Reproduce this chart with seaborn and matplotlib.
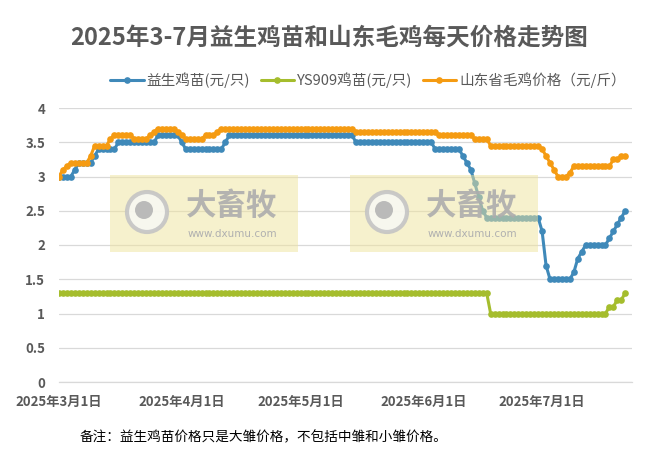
import numpy as np
import pandas as pd
import matplotlib
matplotlib.use('Agg')
import matplotlib.pyplot as plt
import matplotlib.dates as mdates
from matplotlib.patches import Rectangle, Ellipse
import seaborn as sns

sns.set_style('white')
plt.rcParams['font.family'] = ['Noto Sans CJK SC', 'DejaVu Sans']

# ---- data (daily, 2025-03-01 .. 2025-07-22) ----
dates = pd.date_range('2025-03-01', '2025-07-22', freq='D')

# 益生鸡苗 (元/只)
yisheng_mar = [3.0, 3.0, 3.0, 3.0, 3.1, 3.2, 3.2, 3.2, 3.2, 3.3, 3.4, 3.4, 3.4, 3.4, 3.4,
               3.5, 3.5, 3.5, 3.5, 3.5, 3.5, 3.5, 3.5, 3.5, 3.5, 3.6, 3.6, 3.6, 3.6, 3.6, 3.6]
yisheng_apr = [3.5, 3.4, 3.4, 3.4, 3.4, 3.4, 3.4, 3.4, 3.4, 3.4, 3.4, 3.5, 3.6, 3.6, 3.6,
               3.6, 3.6, 3.6, 3.6, 3.6, 3.6, 3.6, 3.6, 3.6, 3.6, 3.6, 3.6, 3.6, 3.6, 3.6]
yisheng_may = [3.6, 3.6, 3.6, 3.6, 3.6, 3.6, 3.6, 3.6, 3.6, 3.6, 3.6, 3.6, 3.6, 3.6, 3.5, 3.5,
               3.5, 3.5, 3.5, 3.5, 3.5, 3.5, 3.5, 3.5, 3.5, 3.5, 3.5, 3.5, 3.5, 3.5, 3.5]
yisheng_jun = [3.5, 3.5, 3.5, 3.4, 3.4, 3.4, 3.4, 3.4, 3.4, 3.4, 3.3, 3.2, 3.1, 2.9, 2.7,
               2.5, 2.4, 2.4, 2.4, 2.4, 2.4, 2.4, 2.4, 2.4, 2.4, 2.4, 2.4, 2.4, 2.4, 2.4]
yisheng_jul = [2.2, 1.7, 1.5, 1.5, 1.5, 1.5, 1.5, 1.5, 1.6, 1.8, 1.9, 2.0, 2.0, 2.0, 2.0,
               2.0, 2.0, 2.1, 2.2, 2.3, 2.4, 2.5]

# YS909鸡苗 (元/只)
ys909_mar = [1.3] * 31
ys909_apr = [1.3] * 30
ys909_may = [1.3] * 31
ys909_jun = [1.3, 1.3, 1.3, 1.3, 1.3, 1.3, 1.3, 1.3, 1.3, 1.3, 1.3, 1.3, 1.3, 1.3, 1.3,
             1.3, 1.3, 1.0, 1.0, 1.0, 1.0, 1.0, 1.0, 1.0, 1.0, 1.0, 1.0, 1.0, 1.0, 1.0]
ys909_jul = [1.0, 1.0, 1.0, 1.0, 1.0, 1.0, 1.0, 1.0, 1.0, 1.0, 1.0, 1.0, 1.0, 1.0, 1.0,
             1.0, 1.0, 1.1, 1.1, 1.2, 1.2, 1.3]

# 山东省毛鸡价格 (元/斤)
maoji_mar = [3.0, 3.1, 3.15, 3.2, 3.2, 3.2, 3.2, 3.2, 3.3, 3.45, 3.45, 3.45, 3.45, 3.55, 3.6,
             3.6, 3.6, 3.6, 3.6, 3.55, 3.55, 3.55, 3.55, 3.6, 3.65, 3.7, 3.7, 3.7, 3.7, 3.7, 3.65]
maoji_apr = [3.6, 3.55, 3.55, 3.55, 3.55, 3.55, 3.6, 3.6, 3.6, 3.65, 3.7, 3.7, 3.7, 3.7, 3.7,
             3.7, 3.7, 3.7, 3.7, 3.7, 3.7, 3.7, 3.7, 3.7, 3.7, 3.7, 3.7, 3.7, 3.7, 3.7]
maoji_may = [3.7, 3.7, 3.7, 3.7, 3.7, 3.7, 3.7, 3.7, 3.7, 3.7, 3.7, 3.7, 3.7, 3.7, 3.65, 3.65,
             3.65, 3.65, 3.65, 3.65, 3.65, 3.65, 3.65, 3.65, 3.65, 3.65, 3.65, 3.65, 3.65, 3.65, 3.65]
maoji_jun = [3.65, 3.65, 3.65, 3.65, 3.6, 3.6, 3.6, 3.6, 3.6, 3.6, 3.6, 3.6, 3.6, 3.55, 3.55,
             3.55, 3.55, 3.45, 3.45, 3.45, 3.45, 3.45, 3.45, 3.45, 3.45, 3.45, 3.45, 3.45, 3.45, 3.45]
maoji_jul = [3.4, 3.3, 3.2, 3.1, 3.0, 3.0, 3.0, 3.05, 3.15, 3.15, 3.15, 3.15, 3.15, 3.15, 3.15,
             3.15, 3.15, 3.15, 3.25, 3.25, 3.3, 3.3]

series_names = ['益生鸡苗(元/只)', 'YS909鸡苗(元/只)', '山东省毛鸡价格（元/斤）']
series_colors = ['#3F89B9', '#A5BD2D', '#F59B12']

yisheng = yisheng_mar + yisheng_apr + yisheng_may + yisheng_jun + yisheng_jul
ys909 = ys909_mar + ys909_apr + ys909_may + ys909_jun + ys909_jul
maoji = maoji_mar + maoji_apr + maoji_may + maoji_jun + maoji_jul

df = pd.DataFrame({'date': dates, series_names[0]: yisheng,
                   series_names[1]: ys909, series_names[2]: maoji})

W, H = 658, 459
fig = plt.figure(figsize=(W / 100, H / 100), dpi=100)
ax = fig.add_axes([59 / W, 1 - 382 / H, (632 - 59) / W, (382 - 108) / H])

for name, color in zip(series_names, series_colors):
    sns.lineplot(data=df, x='date', y=name, ax=ax, color=color, label=name,
                 linewidth=2.2, marker='o', markersize=4.8, markeredgewidth=0)

ax.set_xlim(pd.Timestamp('2025-03-01'), pd.Timestamp('2025-03-01') + pd.Timedelta(days=144.7))
ax.set_ylim(0, 4)
ax.set_yticks(np.arange(0, 4.01, 0.5))
ax.set_yticklabels(['0', '0.5', '1', '1.5', '2', '2.5', '3', '3.5', '4'])
ax.xaxis.set_major_locator(mdates.MonthLocator())
ax.xaxis.set_major_formatter(plt.FuncFormatter(
    lambda v, pos: (lambda d: f'{d.year}年{d.month}月{d.day}日')(mdates.num2date(v))))

ax.grid(axis='y', color='#D9D9D9', linewidth=0.9)
ax.set_axisbelow(True)
for s in ['top', 'right', 'left']:
    ax.spines[s].set_visible(False)
ax.spines['bottom'].set_color('#D9D9D9')
ax.spines['bottom'].set_linewidth(0.9)
ax.tick_params(axis='y', length=0, pad=10, labelsize=9.5, labelcolor='#595959')
ax.tick_params(axis='x', length=4, color='#D9D9D9', pad=5, labelsize=9.5, labelcolor='#595959')
for lab in ax.get_xticklabels() + ax.get_yticklabels():
    lab.set_fontweight('bold')
ax.set_xlabel('')
ax.set_ylabel('')

ax.legend(ncol=3, loc='center', bbox_to_anchor=(368 / W, 1 - 80 / H),
          bbox_transform=fig.transFigure, frameon=False, fontsize=10.5,
          labelcolor='#595959', handlelength=2.3, handletextpad=0.2, columnspacing=0.7)

fig.text(329 / W, 1 - 38 / H, '2025年3-7月益生鸡苗和山东毛鸡每天价格走势图',
         ha='center', va='center', fontsize=17, fontweight='bold', color='#595959')
fig.text(80 / W, 1 - 437 / H, '备注：益生鸡苗价格只是大雏价格，不包括中雏和小雏价格。',
         ha='left', va='center', fontsize=9.8, color='black')

# watermark boxes drawn over the plot
def px(x, y):
    return x / W, 1 - y / H

for x0 in [110, 350]:
    fig.add_artist(Rectangle(px(x0, 252), 188 / W, 77 / H, transform=fig.transFigure,
                             facecolor='#EFE49C', alpha=0.5, edgecolor='none', zorder=10))
    fig.add_artist(Ellipse(px(x0 + 37, 212), 40 / W, 40 / H, transform=fig.transFigure,
                           facecolor='#F8F8F2', edgecolor='#C4C4C4', linewidth=3,
                           alpha=0.9, zorder=11))
    fig.add_artist(Ellipse(px(x0 + 34, 210), 18 / W, 18 / H, transform=fig.transFigure,
                           facecolor='#B4B4B4', edgecolor='none', alpha=0.9, zorder=12))
    fig.text(*px(x0 + 122, 206), '大畜牧', ha='center', va='center', fontsize=22,
             fontweight='bold', color='#ADADAD', zorder=11, alpha=0.9)
    fig.text(*px(x0 + 122, 234), 'www.dxumu.com', ha='center', va='center', fontsize=7.5,
             color='#B0B0B0', zorder=11, family=['DejaVu Sans'])

fig.savefig('out.png', dpi=100)
